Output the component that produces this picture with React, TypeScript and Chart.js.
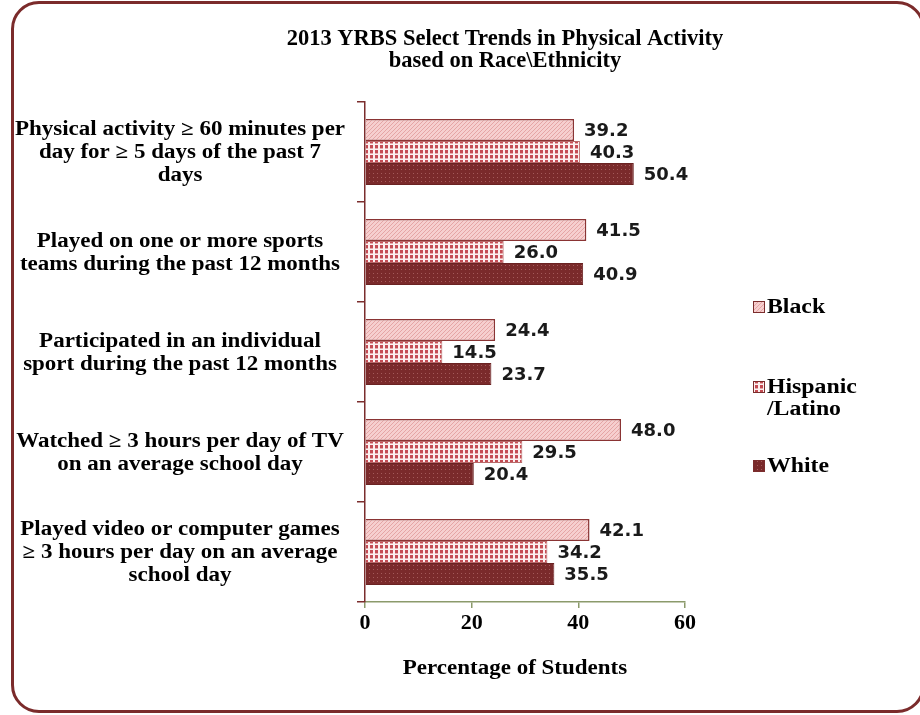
import React, { useEffect, useRef } from "react";
import { Chart, registerables } from "chart.js";

Chart.register(...registerables);

const titleLines = ["2013 YRBS Select Trends in Physical Activity", "based on Race\\Ethnicity"];
const categories: string[][] = [
  ["Physical activity \u2265 60 minutes per", "day for \u2265 5 days of the past 7", "days"],
  ["Played on one or more sports", "teams during the past 12 months"],
  ["Participated in an individual", "sport during the past 12 months"],
  ["Watched \u2265 3 hours per day of TV", "on an average school day"],
  ["Played video or computer games", "\u2265 3 hours per day on an average", "school day"],
];
const seriesNames: string[][] = [["Black"], ["Hispanic", "/Latino"], ["White"]];
const blackValues = [39.2, 41.5, 24.4, 48.0, 42.1];
const hispanicValues = [40.3, 26.0, 14.5, 29.5, 34.2];
const whiteValues = [50.4, 40.9, 23.7, 20.4, 35.5];
const xTicks = [0, 20, 40, 60];
const xTitle = "Percentage of Students";

const SERIF = '"Liberation Serif", "Times New Roman", serif';
const SANS = '"DejaVu Sans", Verdana, sans-serif';

function makePattern(kind: string): CanvasPattern | string {
  const c = document.createElement("canvas");
  const s = kind === "hisp" ? 5 : 4;
  c.width = s;
  c.height = s;
  const g = c.getContext("2d")!;
  if (kind === "black") {
    g.fillStyle = "#f6cfcf";
    g.fillRect(0, 0, s, s);
    g.fillStyle = "#e5a5a5";
    for (let i = 0; i < s; i++) g.fillRect((s - 1 - i + s) % s, i, 1, 1);
  } else if (kind === "hisp") {
    g.fillStyle = "#fbf0f0";
    g.fillRect(0, 0, s, s);
    g.fillStyle = "#c44c54";
    g.fillRect(0, 0, 3, 3);
    g.fillStyle = "#e6a8a8";
    g.fillRect(0, 3, 3, 1);
  } else {
    g.fillStyle = "#7a2a2b";
    g.fillRect(0, 0, s, s);
    g.fillStyle = "#a45a5a";
    g.fillRect(1, 1, 1, 1);
  }
  const p = g.createPattern(c, "repeat");
  return p || "#999";
}

function stretchText(ctx: CanvasRenderingContext2D, text: string, x: number, y: number, sx: number) {
  ctx.save();
  ctx.translate(x, y);
  ctx.scale(sx, 1);
  ctx.fillText(text, 0, 0);
  ctx.restore();
}

const overlayPlugin = {
  id: "overlay",
  afterDatasetsDraw(chart: any) {
    const ctx = chart.ctx;
    ctx.save();
    // data labels
    ctx.font = `bold 18px ${SANS}`;
    ctx.fillStyle = "#1a1a1a";
    ctx.textAlign = "left";
    ctx.textBaseline = "middle";
    chart.data.datasets.forEach((ds: any, di: number) => {
      const meta = chart.getDatasetMeta(di);
      meta.data.forEach((bar: any, i: number) => {
        ctx.fillText(Number(ds.data[i]).toFixed(1), bar.x + 10, bar.y + 1);
      });
    });
    ctx.fillStyle = "#000";
    // category labels (from the y scale)
    const yScale = chart.scales.y;
    ctx.font = `bold 20px ${SERIF}`;
    ctx.textAlign = "center";
    chart.data.labels.forEach((lab: string[], i: number) => {
      const cy = yScale.getPixelForTick(i);
      lab.forEach((line, j) => {
        const ly = cy + (j - (lab.length - 1) / 2) * 23.3 + 1;
        stretchText(ctx, line, 180, ly, 1.15);
      });
    });
    // title
    ctx.font = `bold 22.5px ${SERIF}`;
    titleLines.forEach((t, i) => ctx.fillText(t, 505, 39 + i * 22));
    // x axis title
    ctx.font = `bold 20px ${SERIF}`;
    stretchText(ctx, xTitle, 515, 669, 1.15);
    // legend
    const ys = [307, 387, 466];
    ctx.textAlign = "left";
    chart.data.datasets.forEach((ds: any, di: number) => {
      const y = ys[di];
      ctx.fillStyle = ds.backgroundColor;
      ctx.fillRect(753, y - 6, 12, 12);
      ctx.strokeStyle = "#7b2d2d";
      ctx.lineWidth = 1;
      ctx.strokeRect(753.5, y - 5.5, 11, 11);
      ctx.fillStyle = "#000";
      ctx.font = `bold 20.5px ${SERIF}`;
      seriesNames[di].forEach((line, li) => stretchText(ctx, line, 767, y + 1 + li * 22, 1.16));
    });
    ctx.restore();
  },
};

export default function App() {
  const ref = useRef<HTMLCanvasElement>(null);
  useEffect(() => {
    const canvas = ref.current!;
    const chart = new Chart(canvas, {
      type: "bar",
      data: {
        labels: categories,
        datasets: [
          { label: seriesNames[0].join(""), data: blackValues, backgroundColor: makePattern("black") as any, borderColor: "#8a3434", borderWidth: 1.5 },
          { label: seriesNames[1].join(""), data: hispanicValues, backgroundColor: makePattern("hisp") as any, borderColor: "#b86a6a", borderWidth: 1 },
          { label: seriesNames[2].join(""), data: whiteValues, backgroundColor: makePattern("white") as any, borderColor: "#6a2222", borderWidth: 1 },
        ],
      },
      options: {
        indexAxis: "y",
        animation: false,
        responsive: false,
        devicePixelRatio: 1,
        layout: { padding: { left: 0, right: 235, top: 102, bottom: 28 } },
        datasets: { bar: { categoryPercentage: 0.66, barPercentage: 1 } },
        plugins: { legend: { display: false }, title: { display: false }, tooltip: { enabled: false } },
        scales: {
          x: {
            min: 0,
            max: 60,
            afterBuildTicks: (s: any) => { s.ticks = xTicks.map((v) => ({ value: v })); },
            afterFit: (s: any) => { s.height = 715 - 602 - 28; },
            ticks: { color: "#000", padding: 2, font: { family: SERIF, size: 22, weight: "bold" } },
            grid: { drawOnChartArea: false, tickLength: 6, color: "#8b9a6b", lineWidth: 1.5 },
            border: { color: "#8b9a6b", width: 1.5 },
          },
          y: {
            afterFit: (s: any) => { s.width = 365; },
            ticks: { display: false },
            grid: { drawOnChartArea: false, tickLength: 8, color: "#7b2d2d", lineWidth: 1.5, offset: true },
            border: { color: "#7b2d2d", width: 1.5 },
          },
        },
      } as any,
      plugins: [overlayPlugin],
    });
    return () => chart.destroy();
  }, []);
  return (
    <div style={{ position: "fixed", left: 0, top: 0, width: 920, height: 715, background: "#fff", overflow: "hidden" }}>
      <div
        style={{
          position: "absolute",
          left: 11,
          top: 1,
          width: 914,
          height: 712,
          boxSizing: "border-box",
          border: "3px solid #7b2b2b",
          borderRadius: 28,
        }}
      />
      <canvas ref={ref} width={920} height={715} style={{ position: "absolute", left: 0, top: 0 }} />
    </div>
  );
}
